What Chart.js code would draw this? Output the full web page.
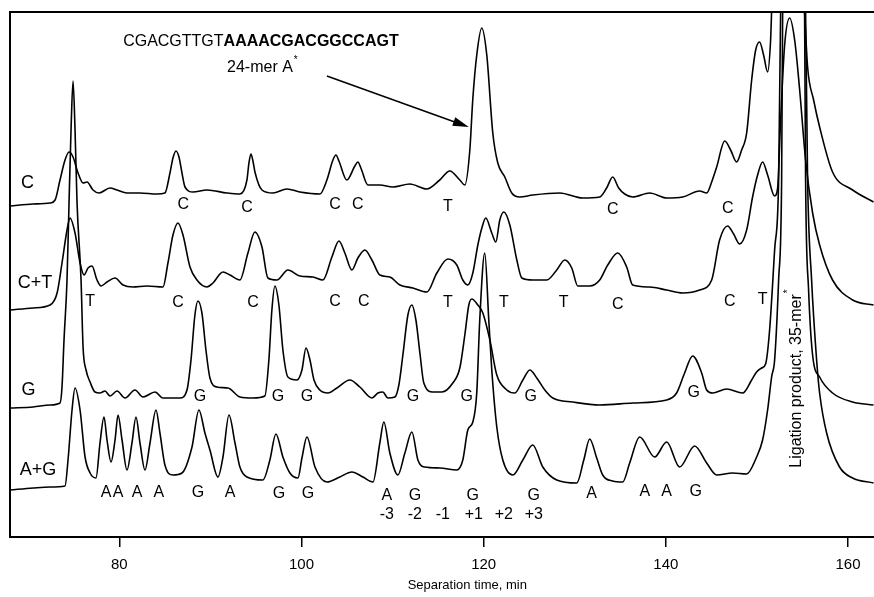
<!DOCTYPE html>
<html>
<head>
<meta charset="utf-8">
<script src="https://cdn.jsdelivr.net/npm/chart.js@4.4.1/dist/chart.umd.min.js"></script>
<style>
  html, body { margin: 0; padding: 0; background: #fff; }
  canvas { display: block; background: #fff; }
</style>
</head>
<body>
<canvas id="electropherogram" width="874" height="597"></canvas>
<script>
// lanes: [separation time (min), detector signal (arb. units, stacked)]
const traceC = [[68.01,331],[70.53,333],[72.40,334],[72.95,337],[73.49,357],[74.04,377],[74.48,385],[74.92,380],[75.47,364],[76.02,354],[76.46,355],[77.11,347],[77.77,344],[78.98,349],[79.75,347],[80.84,344],[82.27,344],[84.13,343],[85.01,344],[85.56,364],[85.89,379],[86.22,386],[86.55,380],[86.88,364],[87.21,350],[88.09,345],[89.62,347],[91.82,344],[93.24,343],[94.01,357],[94.23,374],[94.45,383],[94.67,376],[94.89,365],[95.66,347],[96.86,344],[98.40,348],[99.83,345],[102.02,343],[102.79,357],[103.45,377],[103.78,382],[104.11,376],[104.98,357],[105.86,371],[106.19,375],[106.52,369],[107.29,352],[108.60,352],[110.03,350],[111.89,353],[113.76,348],[115.18,357],[116.28,366],[117.38,357],[117.93,352],[118.48,387],[118.80,437],[119.24,482],[119.79,509],[120.34,482],[121.00,404],[121.55,374],[122.32,360],[123.08,344],[123.96,340],[125.39,342],[128.35,344],[130.87,339],[132.74,340],[133.50,349],[134.16,360],[134.82,349],[135.48,343],[136.36,340],[138.22,344],[140.09,339],[141.84,340],[143.71,346],[144.48,344],[145.03,355],[145.58,370],[146.46,396],[147.11,387],[147.77,375],[148.32,387],[148.87,404],[149.42,457],[149.86,487],[150.29,495],[150.73,482],[151.17,465],[151.50,497],[151.61,525],[153.37,837],[155.23,525],[155.56,470],[156.22,437],[156.88,410],[158.30,365],[160.50,347],[162.80,335]];

const traceCT = [[68.01,227],[70.53,229],[72.40,232],[73.17,244],[73.71,274],[74.26,307],[74.59,319],[75.14,304],[75.69,274],[76.13,262],[76.57,269],[77.00,271],[77.55,257],[77.99,251],[78.65,255],[79.53,259],[80.41,252],[81.50,250],[83.04,251],[84.79,250],[85.34,274],[85.89,302],[86.44,314],[86.99,302],[87.76,270],[88.52,257],[89.62,250],[90.28,254],[91.38,265],[92.15,262],[93.24,257],[94.12,284],[94.89,305],[95.66,290],[96.31,259],[97.30,257],[98.51,267],[99.83,261],[101.25,260],[102.35,257],[103.34,280],[104.11,296],[104.76,284],[105.53,267],[106.19,279],[106.96,287],[107.73,277],[108.60,262],[109.70,260],[110.80,252],[112.23,249],[113.76,245],[114.86,264],[116.07,278],[117.05,272],[117.71,257],[118.26,252],[118.81,264],[119.36,292],[119.80,309],[120.23,319],[120.89,304],[121.33,295],[121.77,317],[122.21,325],[122.87,312],[123.64,277],[124.19,259],[125.39,257],[126.93,257],[128.02,267],[128.90,277],[129.67,269],[130.33,251],[131.64,251],[132.74,257],[133.62,272],[134.72,284],[135.70,270],[136.36,252],[138.22,250],[140.09,247],[141.84,244],[143.71,247],[145.03,257],[145.90,297],[146.78,311],[147.44,303],[148.10,293],[148.87,307],[149.52,340],[150.07,362],[150.62,375],[151.17,362],[151.94,341],[152.27,349],[152.60,417],[153.04,492],[153.59,519],[154.14,497],[154.69,447],[155.34,377],[156.11,324],[156.88,292],[158.30,257],[160.50,237],[162.80,232]];

const traceG = [[68.01,129],[70.53,130],[72.40,132],[73.49,134],[73.71,150],[73.93,197],[74.26,257],[74.48,334],[74.70,407],[74.92,456],[75.14,407],[75.36,334],[75.80,257],[76.02,190],[76.35,167],[76.79,155],[77.33,145],[77.88,144],[78.43,146],[78.98,141],[79.75,146],[80.63,139],[81.72,147],[82.60,140],[83.92,145],[84.79,139],[86.66,139],[87.43,147],[87.87,177],[88.30,222],[88.63,236],[89.07,224],[89.51,187],[89.95,159],[90.72,150],[91.93,149],[93.24,140],[94.67,139],[95.98,141],[96.42,177],[96.75,227],[97.08,251],[97.52,232],[97.96,187],[98.51,160],[99.50,157],[100.05,167],[100.49,189],[100.93,177],[101.37,157],[102.02,147],[102.90,144],[103.89,149],[105.31,157],[106.41,150],[107.73,139],[108.39,144],[108.93,145],[109.48,139],[110.25,140],[110.69,152],[111.13,182],[111.68,222],[112.12,232],[112.56,217],[113.00,184],[113.43,154],[114.42,145],[115.41,145],[116.61,154],[117.38,169],[117.93,202],[118.37,232],[118.70,238],[119.36,232],[119.91,224],[120.68,197],[121.44,162],[122.54,147],[123.42,144],[124.30,157],[125.07,167],[125.83,159],[126.71,147],[127.59,139],[129.78,135],[132.74,132],[136.36,134],[140.09,137],[141.18,144],[142.06,164],[142.94,181],[143.93,164],[144.48,147],[145.13,144],[146.67,148],[148.43,144],[149.42,157],[149.96,165],[150.51,169],[150.95,173],[151.39,207],[151.94,287],[152.38,357],[152.60,525],[153.92,937],[155.23,525],[155.34,357],[155.67,247],[156.11,182],[156.88,160],[158.30,144],[160.50,135],[162.80,132]];

const traceAG = [[68.01,47],[70.53,49],[72.40,50],[74.04,51],[74.37,77],[74.81,127],[75.14,149],[75.69,127],[76.24,80],[76.79,64],[77.44,59],[77.88,94],[78.32,120],[78.65,97],[79.09,75],[79.53,97],[79.86,122],[80.30,97],[80.84,67],[81.39,94],[81.83,120],[82.27,94],[82.82,67],[83.37,94],[84.03,127],[84.46,104],[85.01,72],[85.89,62],[86.88,64],[87.98,90],[88.74,127],[89.40,104],[89.95,87],[90.83,60],[91.38,80],[92.04,122],[92.70,94],[93.24,70],[94.01,60],[95.77,57],[96.53,77],[97.19,103],[97.96,80],[98.73,64],[99.61,59],[100.05,79],[100.60,100],[101.48,70],[102.79,55],[104.21,60],[105.53,65],[106.74,60],[107.84,55],[108.60,94],[109.04,115],[109.70,84],[110.58,62],[111.35,84],[112.12,105],[112.78,77],[113.54,70],[115.19,69],[117.05,67],[117.71,77],[118.26,107],[118.81,115],[119.24,144],[119.57,217],[120.12,284],[120.56,217],[120.89,167],[121.44,110],[122.10,77],[123.20,62],[124.30,77],[125.39,92],[126.49,70],[128.02,57],[130.22,54],[130.99,77],[131.64,98],[132.41,79],[133.07,62],[134.16,56],[135.26,55],[136.03,74],[137.13,100],[138.77,80],[140.09,95],[141.51,70],[143.16,91],[144.48,74],[145.58,62],[147.33,64],[148.87,63],[149.96,80],[150.62,97],[151.17,127],[151.61,160],[151.94,177],[152.38,257],[152.71,357],[152.82,525],[154.14,937],[155.34,525],[155.56,357],[156.00,257],[156.55,177],[156.88,144],[157.65,104],[159.07,70],[160.50,59],[162.80,54]];

const xTicks = [80, 100, 120, 140, 160];

// text placed at [text, time, signal]
const laneNames = [['C', 69.93, 354], ['C+T', 70.75, 254], ['G', 70.04, 147], ['A+G', 71.08, 67]];

const peakLabels = [
  ['C',87.01,332],['C',94.01,329],['C',103.67,332],['C',106.19,332],['T',116.07,330],['C',134.17,327],['C',146.79,328],
  ['T',76.79,235],['C',86.44,234],['C',94.67,234],['C',103.67,235],['C',106.85,235],['T',116.07,234],['T',122.21,234],['T',128.79,234],['C',134.72,232],['C',147.01,235],['T',150.62,237],
  ['G',88.85,140],['G',97.41,140],['G',100.60,140],['G',112.23,140],['G',118.15,140],['G',125.17,140],['G',143.05,144],
  ['A',78.54,44],['A',79.86,44],['A',81.94,44],['A',84.35,44],['G',88.63,44],['A',92.15,44],['G',97.52,43],['G',100.70,43],
  ['A',109.37,41],['G',112.45,41],['G',118.81,41],['G',125.50,41],['A',131.86,43],['A',137.68,45],['A',140.09,45],['G',143.27,45]
];

const positionLabels = [['-3',109.37,22],['-2',112.45,22],['-1',115.52,22],['+1',118.92,22],['+2',122.21,22],['+3',125.50,22]];

const FONT = '"Liberation Sans", Arial, sans-serif';

function dataset(trace) {
  return {
    data: trace.map(p => ({ x: p[0], y: p[1] })),
    borderColor: '#000',
    borderWidth: 1.6,
    pointRadius: 0,
    fill: false,
    cubicInterpolationMode: 'monotone'
  };
}

const annotations = {
  id: 'annotations',
  afterDatasetsDraw(chart) {
    const { ctx, chartArea: a, scales: { x, y } } = chart;
    const px = t => x.getPixelForValue(t);
    const py = v => y.getPixelForValue(v);
    ctx.save();

    // frame (left and top)
    ctx.strokeStyle = '#000';
    ctx.lineWidth = 2;
    ctx.beginPath();
    ctx.moveTo(a.left, a.bottom);
    ctx.lineTo(a.left, a.top);
    ctx.lineTo(a.right, a.top);
    ctx.stroke();

    ctx.fillStyle = '#000';
    ctx.textAlign = 'center';
    ctx.textBaseline = 'middle';

    ctx.font = '18px ' + FONT;
    laneNames.forEach(([s, t, v]) => ctx.fillText(s, px(t), py(v)));

    ctx.font = '16px ' + FONT;
    peakLabels.forEach(([s, t, v]) => ctx.fillText(s, px(t), py(v)));
    positionLabels.forEach(([s, t, v]) => ctx.fillText(s, px(t), py(v)));

    // sequence of the 24-mer
    ctx.textAlign = 'left';
    let sx = px(80.42);
    const sy = py(495);
    ctx.font = '16px ' + FONT;
    ctx.fillText('CGACGTTGT', sx, sy);
    sx += ctx.measureText('CGACGTTGT').width;
    ctx.font = 'bold 16px ' + FONT;
    ctx.fillText('AAAACGACGGCCAGT', sx, sy);

    ctx.font = '16px ' + FONT;
    const mx = px(91.83), my = py(469);
    ctx.fillText('24-mer A', mx, my);
    const mw = ctx.measureText('24-mer A').width;
    ctx.font = '10px ' + FONT;
    ctx.fillText('*', mx + mw + 1, my - 8);

    // arrow to the 24-mer peak
    const x0 = px(102.79), y0 = py(461), x1 = px(118.37), y1 = py(410);
    const ang = Math.atan2(y1 - y0, x1 - x0);
    ctx.lineWidth = 1.5;
    ctx.beginPath();
    ctx.moveTo(x0, y0);
    ctx.lineTo(x1 - 12 * Math.cos(ang), y1 - 12 * Math.sin(ang));
    ctx.stroke();
    ctx.beginPath();
    ctx.moveTo(x1, y1);
    ctx.lineTo(x1 - 16 * Math.cos(ang) + 4.5 * Math.sin(ang), y1 - 16 * Math.sin(ang) - 4.5 * Math.cos(ang));
    ctx.lineTo(x1 - 16 * Math.cos(ang) - 4.5 * Math.sin(ang), y1 - 16 * Math.sin(ang) + 4.5 * Math.cos(ang));
    ctx.closePath();
    ctx.fill();

    // vertical label of the ligation product
    ctx.save();
    ctx.translate(px(154.35), py(156));
    ctx.rotate(-Math.PI / 2);
    ctx.textAlign = 'center';
    ctx.font = '16px ' + FONT;
    ctx.fillText('Ligation product, 35-mer', 0, 0);
    const lw = ctx.measureText('Ligation product, 35-mer').width;
    ctx.font = '10px ' + FONT;
    ctx.fillText('*', lw / 2 + 3, -8);
    ctx.restore();

    // axis title
    ctx.textAlign = 'center';
    ctx.font = '13px ' + FONT;
    ctx.fillText('Separation time, min', px(118.2), a.bottom + 48);

    ctx.restore();
  }
};

new Chart(document.getElementById('electropherogram'), {
  type: 'line',
  data: { datasets: [dataset(traceC), dataset(traceCT), dataset(traceG), dataset(traceAG)] },
  options: {
    responsive: false,
    animation: false,
    events: [],
    layout: { padding: { left: 10, top: 12, right: 0, bottom: 0 } },
    plugins: { legend: { display: false }, tooltip: { enabled: false } },
    scales: {
      x: {
        type: 'linear',
        min: 68,
        max: 162.85,
        afterBuildTicks: scale => { scale.ticks = xTicks.map(v => ({ value: v })); },
        afterFit: scale => { scale.height = 60; },
        border: { display: true, color: '#000', width: 2 },
        grid: { drawOnChartArea: false, drawTicks: true, tickLength: 10, color: '#000', lineWidth: 1.5 },
        ticks: { color: '#000', padding: 9, maxRotation: 0, font: { family: FONT, size: 15 } }
      },
      y: { display: false, min: 0, max: 525 }
    }
  },
  plugins: [annotations]
});
</script>
</body>
</html>
